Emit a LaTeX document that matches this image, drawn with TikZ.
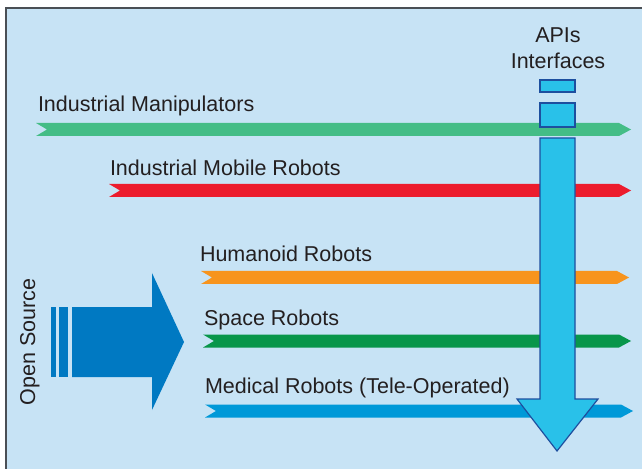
\documentclass[tikz,border=0pt]{standalone}
\usepackage{fontspec}
\setmainfont{Liberation Sans}
\definecolor{bgc}{HTML}{C7E3F5}
\definecolor{framec}{HTML}{4A4F55}
\definecolor{txtc}{HTML}{231F20}
\definecolor{greenA}{HTML}{44BD86}
\definecolor{redA}{HTML}{EC1C2D}
\definecolor{orangeA}{HTML}{F7941D}
\definecolor{greenB}{HTML}{08964A}
\definecolor{blueA}{HTML}{0099D8}
\definecolor{blueBig}{HTML}{0079C2}
\definecolor{cyanA}{HTML}{29C1E9}
\definecolor{borderA}{HTML}{1D4F9F}
\tikzset{
  lbl/.style={inner sep=0pt, outer sep=0pt, text=txtc, font=\fontsize{21.5bp}{25bp}\selectfont},
  apibox/.style={fill=cyanA, draw=borderA, line width=1.2bp},
}
% banner arrow: #1 left x, #2 tip x, #3 top y, #4 colour
\newcommand\bannerarrow[4]{%
  \fill[#4] (#1,#3) -- ({#2-12},#3) -- (#2,{#3+6.5}) -- ({#2-12},{#3+13}) -- (#1,{#3+13}) -- ({#1+11},{#3+6.5}) -- cycle;}
\begin{document}
\begin{tikzpicture}[x=1bp,y=-1bp]
\useasboundingbox (0,0) rectangle (642,469);
\fill[white] (0,0) rectangle (642,469);
\fill[bgc] (6,8) rectangle (642,469);
\draw[framec, line width=1.6bp] (6,469) -- (6,8) -- (642,8);

% horizontal banners
\bannerarrow{36}{631}{123}{greenA}
\bannerarrow{109}{631}{184}{redA}
\bannerarrow{201}{629}{271}{orangeA}
\bannerarrow{203}{631}{334.5}{greenB}
\bannerarrow{205}{633}{404.5}{blueA}

\node[lbl, anchor=base west] (im) at (38,112) {Industrial Manipulators};
\node[lbl, anchor=base west] (imr) at (110,176) {Industrial Mobile Robots};
\node[lbl, anchor=base west] (hr) at (200,262) {Humanoid Robots};
\node[lbl, anchor=base west] (sr) at (204,325) {Space Robots};
\node[lbl, anchor=base west] (mr) at (205,393) {Medical Robots (Tele-Operated)};

% APIs column
\node[lbl, anchor=base] (apis) at (558,43) {APIs};
\node[lbl, anchor=base] (intf) at (558,68.5) {Interfaces};
\draw[apibox] (540,80) rectangle (575,92);
\draw[apibox] (540,103) rectangle (575,127);
\draw[apibox, line join=miter] (540,138) -- (575,138) -- (575,399) -- (598,399) -- (557,451) -- (517,399) -- (540,399) -- cycle;

% open source arrow
\fill[blueBig] (51,307) rectangle (56,377);
\fill[blueBig] (59,307) rectangle (68,377);
\fill[blueBig] (72,307) -- (152,307) -- (152,273) -- (184,342) -- (152,410) -- (152,377) -- (72,377) -- cycle;
\node[lbl, anchor=base, rotate=90] (os) at (35,342) {Open Source};
\end{tikzpicture}
\end{document}
